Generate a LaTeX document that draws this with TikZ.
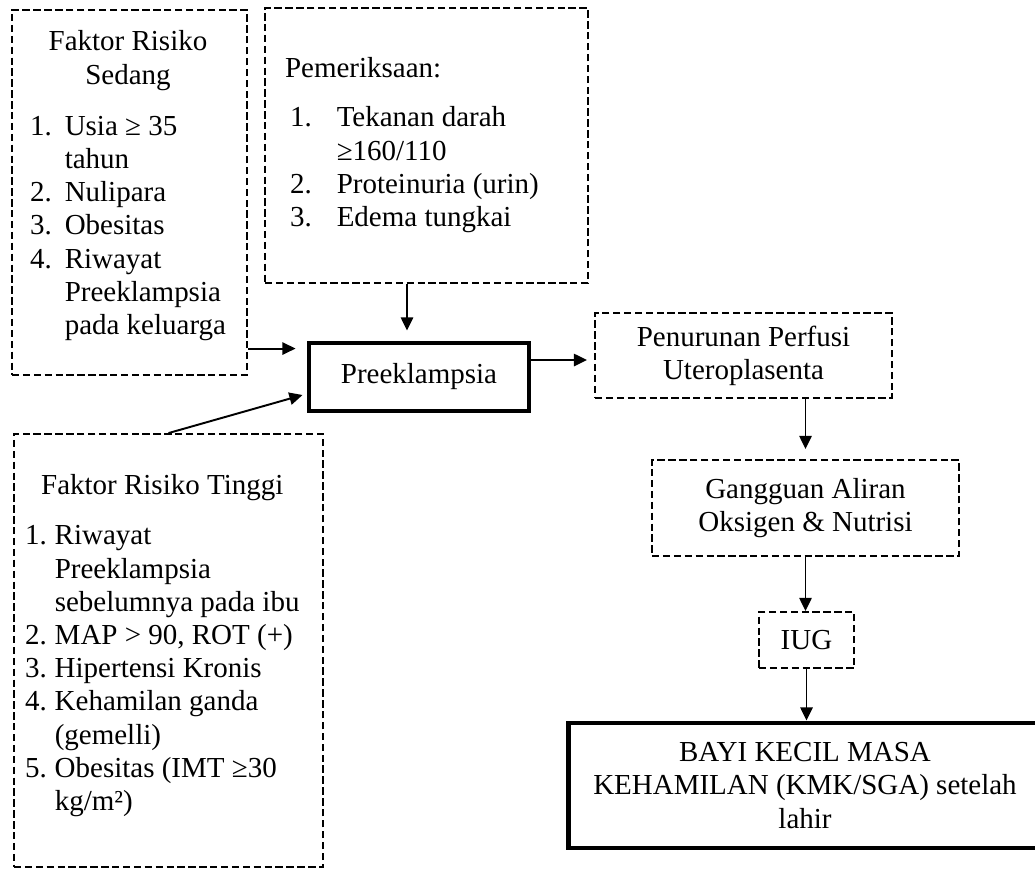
\documentclass[tikz,border=0pt]{standalone}
\usepackage{fontspec}
\setmainfont{Liberation Serif}
\usetikzlibrary{arrows.meta, positioning}

\begin{document}
\begin{tikzpicture}[
    x=0.02cm, y=-0.02cm,
    riskbox/.style={draw, dash pattern=on 4.2pt off 2pt, line width=1.1pt, inner sep=0pt},
    stepbox/.style={draw, dash pattern=on 4.2pt off 2pt, line width=1.1pt, align=center, inner sep=0pt},
    mainbox/.style={draw, line width=2.8pt, align=center, inner sep=0pt},
    arrow/.style={-{Triangle[length=7.5pt, width=7pt]}, line width=1.1pt},
    every node/.append style={font=\fontsize{16.5}{18.9}\selectfont}
]
    \useasboundingbox (0,0) rectangle (1035,870);

    % Risk factors and examination
    \node[riskbox, minimum height=7.3cm] (sedang) at (129.5,192.5) {%
        \makebox[4.7cm][l]{\hspace{0.36cm}%
        \begin{tabular}{@{}r@{\hspace{0.26cm}}l@{}}
        \multicolumn{2}{c}{Faktor Risiko}\\
        \multicolumn{2}{c}{Sedang}\\[0.36cm]
        1. & Usia ≥ 35\\
           & tahun\\
        2. & Nulipara\\
        3. & Obesitas\\
        4. & Riwayat\\
           & Preeklampsia\\
           & pada keluarga\\[0.26cm]
        \end{tabular}}};
    \node[riskbox, minimum height=5.5cm] (periksa) at (426.5,145.5) {%
        \makebox[6.46cm][l]{\hspace{0.4cm}%
        \begin{tabular}{@{\hspace{0.1cm}}r@{\hspace{0.5cm}}l@{}}
        \multicolumn{2}{@{}l}{Pemeriksaan:}\\[0.32cm]
        1. & Tekanan darah\\
           & ≥160/110\\
        2. & Proteinuria (urin)\\
        3. & Edema tungkai
        \end{tabular}}};
    \node[riskbox, minimum height=8.66cm] (tinggi) at (168.5,650.5) {%
        \makebox[6.18cm][l]{\hspace{0.22cm}%
        \begin{tabular}{@{}r@{\hspace{0.16cm}}l@{}}
        \multicolumn{2}{c}{Faktor Risiko Tinggi}\\[0.34cm]
        1. & Riwayat\\
           & Preeklampsia\\
           & sebelumnya pada ibu\\
        2. & MAP > 90, ROT (+)\\
        3. & Hipertensi Kronis\\
        4. & Kehamilan ganda\\
           & (gemelli)\\
        5. & Obesitas (IMT ≥30\\
           & kg/m²)\\[0.18cm]
        \end{tabular}}};

    % Main chain
    \node[mainbox, minimum width=4.4cm, minimum height=1.36cm] (preek) at (419,377) {Preeklampsia};
    \node[stepbox, minimum width=5.94cm, minimum height=1.7cm] (turun) at (743.5,355.5) {Penurunan Perfusi\\Uteroplasenta};
    \node[stepbox, minimum width=6.14cm, minimum height=1.92cm] (ganggu) at (805.5,508) {Gangguan Aliran\\Oksigen \& Nutrisi};
    \node[stepbox, minimum width=1.9cm, minimum height=1.12cm] (iug) at (806.5,640) {IUG};
    \node[mainbox, minimum width=9.48cm, minimum height=2.5cm] (bayi) at (805,785.5) {BAYI KECIL MASA\\KEHAMILAN (KMK/SGA) setelah\\lahir};

    % Arrow ends
    \coordinate (inhigh) at ([xshift=-0.22cm,yshift=-0.16cm]preek.north west);
    \coordinate (inlow) at ([xshift=-0.08cm,yshift=-0.36cm]preek.west);
    \coordinate (intop) at ([xshift=-0.24cm,yshift=0.2cm]preek.north);
    \coordinate (outright) at ([xshift=-0.14cm,yshift=-0.09cm]turun.west);

    % Arrows
    \draw[arrow] (sedang.east |- inhigh) -- (inhigh);
    \draw[arrow] (intop |- periksa.south) -- (intop);
    \draw[arrow] (tinggi.north) -- (inlow);
    \draw[arrow] (preek.east |- outright) -- (outright);
    \draw[arrow] (turun.south -| ganggu.north) -- ([yshift=0.2cm]ganggu.north);
    \draw[arrow] (ganggu.south) -- (ganggu.south |- iug.north);
    \draw[arrow] (iug.south) -- (iug.south |- bayi.north);

\end{tikzpicture}
\end{document}
